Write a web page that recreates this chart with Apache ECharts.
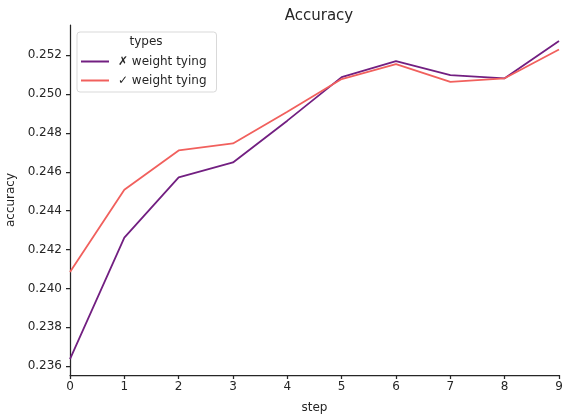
<!DOCTYPE html>
<html>
<head>
<meta charset="utf-8">
<script src="https://cdn.jsdelivr.net/npm/echarts@6/dist/echarts.min.js"></script>
<style>
  html, body { margin: 0; padding: 0; background: #fff; }
  #chart { width: 564px; height: 420px; }
</style>
</head>
<body>
<div id="chart"></div>
<script>
// Training steps and accuracy per configuration
const steps = [0, 1, 2, 3, 4, 5, 6, 7, 8, 9];
const seriesNames = ['✗ weight tying', '✓ weight tying'];
const accNoTying = [0.23637, 0.24261, 0.24571, 0.24648, 0.24863, 0.25087, 0.25169, 0.25097, 0.25081, 0.25273];
const accTying   = [0.24085, 0.24508, 0.24710, 0.24746, 0.24909, 0.25077, 0.25154, 0.25062, 0.25081, 0.25229];
const yTicks = [0.236, 0.238, 0.240, 0.242, 0.244, 0.246, 0.248, 0.250, 0.252];
const xTicks = [0, 1, 2, 3, 4, 5, 6, 7, 8, 9];

const colors = ['#721F81', '#F1605D'];
const font = 'DejaVu Sans';
const textColor = '#262626';

const pairs = vals => steps.map((s, i) => [s, vals[i]]);

const chart = echarts.init(document.getElementById('chart'), null, { renderer: 'canvas' });
chart.setOption({
  animation: false,
  backgroundColor: '#fff',
  textStyle: { fontFamily: font },
  title: [
    {
      text: 'Accuracy',
      left: 314, top: 4, textAlign: 'center',
      textStyle: { fontFamily: font, fontSize: 15, fontWeight: 'normal', color: textColor }
    },
    {
      text: 'types',
      left: 146, top: 36, textAlign: 'center', padding: 0,
      textStyle: { fontFamily: font, fontSize: 12, fontWeight: 'normal', color: textColor }
    }
  ],
  legend: {
    orient: 'vertical',
    left: 77, top: 32,
    width: 138,
    padding: [23, 10, 5, 4],
    itemGap: 6,
    itemWidth: 28,
    itemHeight: 2,
    icon: 'rect',
    backgroundColor: 'rgba(255,255,255,0.8)',
    borderColor: '#d9d9d9',
    borderWidth: 1,
    borderRadius: 3,
    textStyle: { fontFamily: font, fontSize: 12, color: textColor, padding: [0, 0, 0, 4], lineHeight: 13 },
    data: seriesNames
  },
  grid: { left: 70, right: 5, top: 25, bottom: 45, containLabel: false, outerBoundsMode: 'none' },
  xAxis: {
    type: 'value',
    min: 0, max: 9, interval: 1,
    name: 'step',
    nameLocation: 'middle',
    nameGap: 27,
    nameTextStyle: { fontFamily: font, fontSize: 12, color: textColor },
    axisLine: { show: true, lineStyle: { color: '#262626', width: 1.25 } },
    axisTick: { show: true, length: 4, lineStyle: { color: '#262626', width: 1.25 }, customValues: xTicks },
    axisLabel: { fontFamily: font, fontSize: 12, color: textColor, margin: 6, customValues: xTicks },
    splitLine: { show: false }
  },
  yAxis: {
    type: 'value',
    min: 0.23555, max: 0.25355,
    name: 'accuracy',
    nameLocation: 'middle',
    nameGap: 47,
    nameRotate: 90,
    nameTextStyle: { fontFamily: font, fontSize: 12, color: textColor },
    axisLine: { show: true, lineStyle: { color: '#262626', width: 1.25 } },
    axisTick: { show: true, length: 4, lineStyle: { color: '#262626', width: 1.25 }, customValues: yTicks },
    axisLabel: {
      fontFamily: font, fontSize: 12, color: textColor, margin: 8,
      customValues: yTicks,
      formatter: v => v.toFixed(3)
    },
    splitLine: { show: false }
  },
  series: [
    {
      name: seriesNames[0], type: 'line', data: pairs(accNoTying),
      showSymbol: false, symbol: 'none',
      lineStyle: { color: colors[0], width: 1.8 }, itemStyle: { color: colors[0] }
    },
    {
      name: seriesNames[1], type: 'line', data: pairs(accTying),
      showSymbol: false, symbol: 'none',
      lineStyle: { color: colors[1], width: 1.8 }, itemStyle: { color: colors[1] }
    }
  ]
});
</script>
</body>
</html>
